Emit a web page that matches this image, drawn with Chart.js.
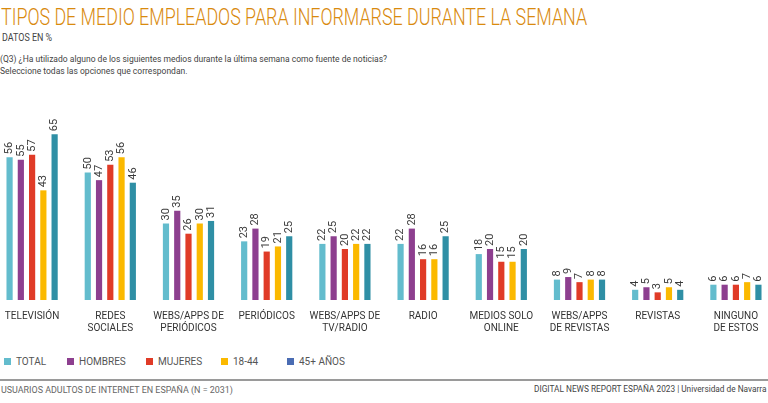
<!DOCTYPE html>
<html>
<head>
<meta charset="utf-8">
<script src="https://cdn.jsdelivr.net/npm/chart.js@4"></script>
<style>
  body { margin: 0; width: 768px; height: 403px; background: #fff; overflow: hidden; position: relative; font-family: Roboto, sans-serif; }
  .fit { position: absolute; white-space: nowrap; transform-origin: 0 0; }
  #title { left: 1px; top: 3px; font-size: 24px; font-weight: 300; color: #d98a0e; }
  #sub { left: 2px; top: 32px; font-size: 10px; color: #444; }
  #q { left: 0px; top: 53px; font-size: 9.5px; color: #444; line-height: 12px; }
  #wrap { position: absolute; left: -7px; top: 96px; width: 782px; height: 240px; }
  #legend { position: absolute; left: 4px; top: 356px; font-size: 10px; color: #555; }
  #legend span.item { position: absolute; white-space: nowrap; }
  #legend i { display: inline-block; width: 7px; height: 7px; margin-right: 5px; vertical-align: 0px; }
  #rule { position: absolute; left: 0; top: 379px; width: 768px; height: 2px; background: #9a9a9a; }
  #foot1 { left: 1px; top: 384px; font-size: 9.5px; color: #666; }
  #foot2 { right: 2px; top: 384px; font-size: 9px; color: #444; transform-origin: 100% 0; }
</style>
</head>
<body>
<div id="title" class="fit">TIPOS DE MEDIO EMPLEADOS PARA INFORMARSE DURANTE LA SEMANA</div>
<div id="sub" class="fit">DATOS EN %</div>
<div id="q" class="fit">(Q3) ¿Ha utilizado alguno de los siguientes medios durante la última semana como fuente de noticias?<br>Seleccione todas las opciones que correspondan.</div>
<div id="wrap"><canvas id="chart"></canvas></div>
<div id="legend"></div>
<div id="rule"></div>
<div id="foot1" class="fit">USUARIOS ADULTOS DE INTERNET EN ESPAÑA (N = 2031)</div>
<div id="foot2" class="fit">DIGITAL NEWS REPORT ESPAÑA 2023 | Universidad de Navarra</div>
<script>
// Datos
const categories = [
    'TELEVISIÓN', ['REDES', 'SOCIALES'], ['WEBS/APPS DE', 'PERIÓDICOS'], 'PERIÓDICOS',
    ['WEBS/APPS DE', 'TV/RADIO'], 'RADIO', ['MEDIOS SOLO', 'ONLINE'],
    ['WEBS/APPS', 'DE REVISTAS'], 'REVISTAS', ['NINGUNO', 'DE ESTOS']
];
const seriesNames = ['TOTAL', 'HOMBRES', 'MUJERES', '18-44', '45+ AÑOS'];
const total   = [56, 50, 30, 23, 22, 22, 18, 8, 4, 6];
const hombres = [55, 47, 35, 28, 25, 28, 20, 9, 5, 6];
const mujeres = [57, 53, 26, 19, 20, 16, 15, 7, 3, 6];
const jovenes = [43, 56, 30, 21, 22, 16, 15, 8, 5, 7];
const mayores = [65, 46, 31, 25, 22, 25, 20, 8, 4, 6];

const barColors = ['#63bccd', '#8d3f8f', '#e03b27', '#fbb900', '#2f8fa5'];
const legendColors = ['#63bccd', '#8d3f8f', '#e03b27', '#fbb900', '#4a6cb3'];
const legendX = [0, 63, 142, 217, 283];

// Ajustar textos al ancho del original (fuente condensada)
const fitWidths = { title: 586, sub: 50, q: 387, foot1: 232, foot2: 233 };
Object.keys(fitWidths).forEach(id => {
    const el = document.getElementById(id);
    el.style.transform = `scaleX(${fitWidths[id] / el.offsetWidth})`;
});

// Leyenda en HTML
const legend = document.getElementById('legend');
seriesNames.forEach((name, i) => {
    const s = document.createElement('span');
    s.className = 'item';
    s.style.left = legendX[i] + 'px';
    s.innerHTML = `<i style="background:${legendColors[i]}"></i>${name}`;
    legend.appendChild(s);
});

// Etiquetas de valor verticales
const valueLabels = {
    id: 'valueLabels',
    afterDatasetsDraw(chart) {
        const ctx = chart.ctx;
        ctx.save();
        ctx.font = '11px Roboto, sans-serif';
        ctx.fillStyle = '#3a3a3a';
        ctx.textAlign = 'left';
        ctx.textBaseline = 'middle';
        chart.data.datasets.forEach((ds, di) => {
            chart.getDatasetMeta(di).data.forEach((bar, i) => {
                ctx.save();
                ctx.translate(bar.x, bar.y - 3);
                ctx.rotate(-Math.PI / 2);
                ctx.fillText(ds.data[i], 0, 0);
                ctx.restore();
            });
        });
        ctx.restore();
    }
};

const allSeries = [total, hombres, mujeres, jovenes, mayores];

new Chart(document.getElementById('chart'), {
    type: 'bar',
    data: {
        labels: categories,
        datasets: allSeries.map((d, i) => ({
            label: seriesNames[i],
            data: d,
            backgroundColor: barColors[i],
            categoryPercentage: 0.72,
            barPercentage: 0.55
        }))
    },
    options: {
        responsive: true,
        maintainAspectRatio: false,
        animation: false,
        layout: { padding: 0 },
        plugins: {
            legend: { display: false },
            tooltip: { enabled: false }
        },
        scales: {
            x: {
                grid: { display: false },
                border: { display: false },
                ticks: {
                    color: '#333',
                    padding: 2,
                    maxRotation: 0,
                    autoSkip: false,
                    font: { size: 10, family: 'Roboto, sans-serif' }
                }
            },
            y: { display: false, min: 0, max: 80 }
        }
    },
    plugins: [valueLabels]
});
</script>
</body>
</html>
